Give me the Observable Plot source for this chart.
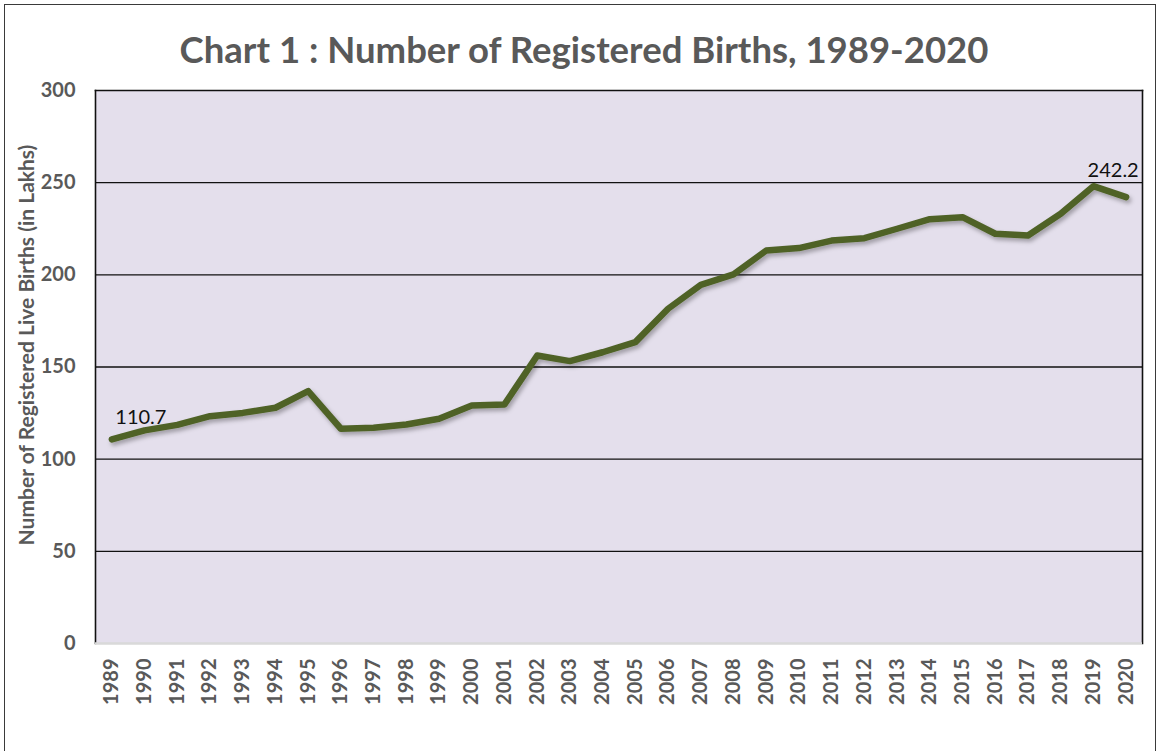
<!DOCTYPE html>
<html>
<head>
<meta charset="utf-8">
<script src="https://cdn.jsdelivr.net/npm/d3@7"></script>
<script src="https://cdn.jsdelivr.net/npm/@observablehq/plot@0.6"></script>
<style>
  html, body { margin: 0; padding: 0; background: #fff; }
  #wrap { position: relative; width: 1158px; height: 751px; overflow: hidden; background: #fff; }
  #border { position: absolute; left: 4px; top: 4px; width: 1152px; height: 800px; border: 1.5px solid #3a3a3a; box-sizing: border-box; }
  #title { position: absolute; left: 0; width: 1168px; top: 31px; text-align: center; font-family: Lato, sans-serif; font-weight: bold; font-size: 36.5px; line-height: 36.5px; color: #595959; white-space: nowrap; }
  #chart { position: absolute; left: 0; top: 0; }
</style>
</head>
<body>
<div id="wrap">
  <div id="border"></div>
  <div id="chart"></div>
  <div id="title">Chart 1 : Number of Registered Births, 1989-2020</div>
</div>
<script>
const years = ["1989","1990","1991","1992","1993","1994","1995","1996","1997","1998","1999","2000","2001","2002","2003","2004","2005","2006","2007","2008","2009","2010","2011","2012","2013","2014","2015","2016","2017","2018","2019","2020"];
const births = [110.7, 115.6, 118.6, 123.3, 125.1, 127.9, 136.9, 116.5, 117.0, 118.8, 121.9, 129.1, 129.7, 156.2, 153.2, 158.0, 163.5, 181.6, 194.6, 200.2, 213.2, 214.5, 218.6, 219.9, 225.0, 230.2, 231.3, 222.3, 221.3, 233.1, 248.1, 242.2];
const yTicks = [0, 50, 100, 150, 200, 250, 300];
const gridValues = [50, 100, 150, 200, 250];
const yLabel = "Number of Registered Live Births (in Lakhs)";

const data = years.map((y, i) => ({year: y, value: births[i]}));
const firstPoint = [data[0]];
const lastPoint = [data[data.length - 1]];

const chart = Plot.plot({
  width: 1158,
  height: 751,
  marginLeft: 95,
  marginRight: 16,
  marginTop: 90,
  marginBottom: 108,
  style: {background: "transparent", overflow: "visible"},
  x: {type: "point", domain: years, padding: 0.5, round: false},
  y: {domain: [0, 300], ticks: yTicks},
  marks: [
    Plot.frame({fill: "#E4DFEC", stroke: null}),
    Plot.ruleY(gridValues, {stroke: "#111", strokeWidth: 1.4}),
    Plot.frame({anchor: "left", stroke: "#111", strokeWidth: 1.6}),
    Plot.frame({anchor: "top", stroke: "#111", strokeWidth: 1.6}),
    Plot.frame({anchor: "right", stroke: "#111", strokeWidth: 1.6}),
    Plot.ruleY([0], {stroke: "#D9D9D9", strokeWidth: 2.5}),
    Plot.axisY({
      ticks: yTicks, tickSize: 0, tickPadding: 20,
      fontFamily: "Lato, sans-serif", fontWeight: "bold", fontSize: 20, fill: "#595959",
      label: yLabel, labelAnchor: "center", labelArrow: "none", labelOffset: 76
    }),
    Plot.axisX({
      tickSize: 0, tickPadding: 15, tickRotate: -90,
      fontFamily: "Lato, sans-serif", fontWeight: "bold", fontSize: 20, fill: "#595959",
      label: null
    }),
    Plot.line(data, {x: "year", y: "value", stroke: "#4F6228", strokeWidth: 6.5, strokeLinejoin: "round", strokeLinecap: "round"}),
    Plot.text(firstPoint, {x: "year", y: "value", text: d => d.value.toFixed(1), dx: 29, dy: -22, fontFamily: "Lato, sans-serif", fontSize: 20, fill: "#111"}),
    Plot.text(lastPoint, {x: "year", y: "value", text: d => d.value.toFixed(1), dx: -13, dy: -26, fontFamily: "Lato, sans-serif", fontSize: 20, fill: "#111"})
  ]
});

document.getElementById("chart").appendChild(chart);

// drop shadow on the line, like the spreadsheet's outer shadow
const svg = d3.select(chart);
const defs = svg.insert("defs", ":first-child");
const f = defs.append("filter").attr("id", "lineShadow").attr("x", "-5%").attr("y", "-10%").attr("width", "110%").attr("height", "130%");
f.append("feDropShadow").attr("dx", 2).attr("dy", 3).attr("stdDeviation", 2.2).attr("flood-color", "#000").attr("flood-opacity", 0.3);
svg.selectAll('g[aria-label="line"] path').attr("filter", "url(#lineShadow)");

// y-axis label styling and position (centred a little above the plot's middle)
const yl = svg.select('g[aria-label="y-axis label"]');
yl.selectAll("text")
  .attr("font-family", "Lato, sans-serif").attr("font-weight", "bold").attr("font-size", 21).attr("fill", "#595959");
const prev = yl.attr("transform") || "";
yl.attr("transform", prev + " translate(0,-22)");
</script>
</body>
</html>
